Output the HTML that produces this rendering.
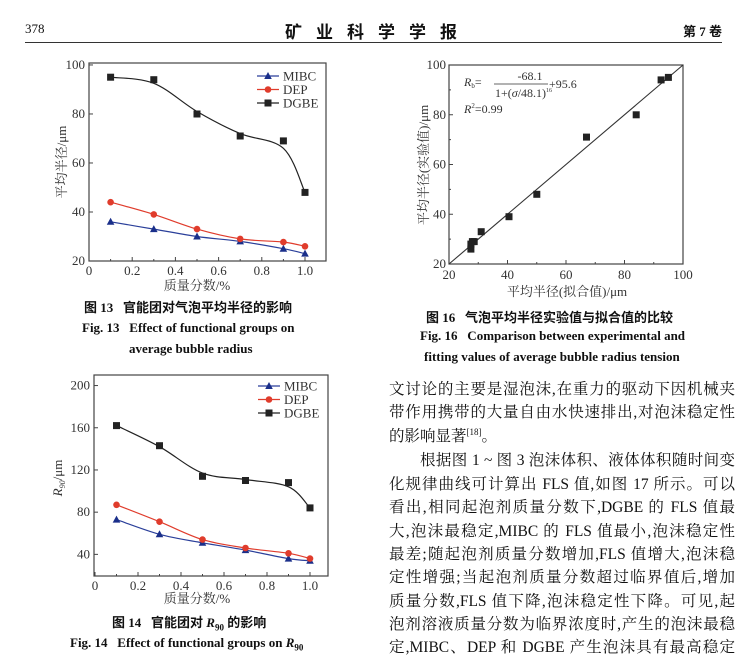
<!DOCTYPE html>
<html><head><meta charset="utf-8">
<style>
html,body{margin:0;padding:0;background:#fff;}
body{width:741px;height:660px;position:relative;overflow:hidden;font-family:"Liberation Serif","Noto Serif CJK SC",serif;color:#111;}
.t{position:absolute;white-space:nowrap;}
.cap{font-family:"Liberation Serif","Noto Sans CJK SC",serif;font-weight:bold;font-size:13px;}
.para div{position:absolute;left:389px;width:346px;font-family:"Liberation Serif","Noto Serif CJK SC",serif;font-size:15.5px;text-align:justify;text-align-last:justify;white-space:nowrap;line-height:20px;height:20px;}
sup{line-height:0;}
</style></head><body>
<div class="t" style="left:25px;top:21px;font-size:13px;">378</div>
<div class="t" style="left:285px;top:18px;font-size:17px;font-weight:bold;letter-spacing:14px;font-family:'Liberation Serif','Noto Sans CJK SC',serif;">矿业科学学报</div>
<div class="t" style="left:683px;top:21px;font-size:13px;font-weight:bold;font-family:'Liberation Serif','Noto Sans CJK SC',serif;">第 7 卷</div>
<div style="position:absolute;left:25px;top:42px;width:697px;height:1px;background:#333;"></div>

<svg id="s" width="741" height="660" style="position:absolute;left:0;top:0" font-family="Liberation Serif, Noto Serif CJK SC, serif"></svg>

<div class="t cap" style="left:84px;top:297px;">图 13&nbsp;&nbsp;&nbsp;官能团对气泡平均半径的影响</div>
<div class="t cap" style="left:82px;top:320px;">Fig. 13&nbsp;&nbsp;&nbsp;Effect of functional groups on</div>
<div class="t cap" style="left:129px;top:341px;">average bubble radius</div>
<div class="t cap" style="left:112px;top:612px;">图 14&nbsp;&nbsp;&nbsp;官能团对 <i>R</i><sub style="font-size:9px;line-height:0">90</sub> 的影响</div>
<div class="t cap" style="left:70px;top:635px;">Fig. 14&nbsp;&nbsp;&nbsp;Effect of functional groups on <i>R</i><sub style="font-size:9px;line-height:0">90</sub></div>
<div class="t cap" style="left:426px;top:307px;">图 16&nbsp;&nbsp;&nbsp;气泡平均半径实验值与拟合值的比较</div>
<div class="t cap" style="left:420px;top:328px;">Fig. 16&nbsp;&nbsp;&nbsp;Comparison between experimental and</div>
<div class="t cap" style="left:424px;top:349px;">fitting values of average bubble radius tension</div>

<div class="para">
<div style="top:380px">文讨论的主要是湿泡沫,在重力的驱动下因机械夹</div>
<div style="top:403px">带作用携带的大量自由水快速排出,对泡沫稳定性</div>
<div style="top:427px;width:auto;text-align-last:auto">的影响显著<sup style="font-size:9px">[18]</sup>。</div>
<div style="top:451px;left:420px;width:315px">根据图 1 ~ 图 3 泡沫体积、液体体积随时间变</div>
<div style="top:475px">化规律曲线可计算出 FLS 值,如图 17 所示。可以</div>
<div style="top:498px">看出,相同起泡剂质量分数下,DGBE 的 FLS 值最</div>
<div style="top:522px">大,泡沫最稳定,MIBC 的 FLS 值最小,泡沫稳定性</div>
<div style="top:545px">最差;随起泡剂质量分数增加,FLS 值增大,泡沫稳</div>
<div style="top:568px">定性增强;当起泡剂质量分数超过临界值后,增加</div>
<div style="top:592px">质量分数,FLS 值下降,泡沫稳定性下降。可见,起</div>
<div style="top:615px">泡剂溶液质量分数为临界浓度时,产生的泡沫最稳</div>
<div style="top:638px">定,MIBC、DEP 和 DGBE 产生泡沫具有最高稳定</div>
</div>

<script>
const S=document.getElementById('s');let h='';
function cr(pts){let d='M'+pts[0][0]+','+pts[0][1];for(let i=0;i<pts.length-1;i++){const p0=pts[i-1]||pts[i],p1=pts[i],p2=pts[i+1],p3=pts[i+2]||p2;const c1=[p1[0]+(p2[0]-p0[0])/6,p1[1]+(p2[1]-p0[1])/6],c2=[p2[0]-(p3[0]-p1[0])/6,p2[1]-(p3[1]-p1[1])/6];d+=`C${c1[0].toFixed(1)},${c1[1].toFixed(1)} ${c2[0].toFixed(1)},${c2[1].toFixed(1)} ${p2[0]},${p2[1]}`;}return d;}
function mark(t,x,y,c){if(t=='s')return `<rect x="${x-3.5}" y="${y-3.5}" width="7" height="7" fill="${c}"/>`;if(t=='c')return `<circle cx="${x}" cy="${y}" r="3.3" fill="${c}"/>`;return `<path d="M${x},${y-4}L${x+3.8},${y+3}L${x-3.8},${y+3}Z" fill="${c}"/>`;}
function chart(o){const {x0,x1,yT,yB,px0,px1,vTop,vBot,ticks}=o;
 const X=v=>px0+(px1-px0)*v, Y=v=>yB-(yB-yT)*(v-vBot)/(vTop-vBot);
 h+=`<rect x="${x0}" y="${yT}" width="${x1-x0}" height="${yB-yT}" fill="none" stroke="#444" stroke-width="1.2"/>`;
 for(let i=0;i<=5;i++){const x=X(i*0.2);h+=`<line x1="${x}" y1="${yB}" x2="${x}" y2="${yB-4}" stroke="#444"/><text x="${x}" y="${yB+14}" font-size="13" text-anchor="middle" fill="#333">${i==0?'0':(i*0.2).toFixed(1)}</text>`;if(i<5){const xm=X(i*0.2+0.1);h+=`<line x1="${xm}" y1="${yB}" x2="${xm}" y2="${yB-2}" stroke="#444"/>`;}}
 ticks.forEach(v=>{const y=Y(v);h+=`<line x1="${x0}" y1="${y}" x2="${x0+4}" y2="${y}" stroke="#444"/><text x="${x0-4}" y="${y+4}" font-size="13" text-anchor="end" fill="#333">${v}</text>`;});
 const xs=[0.1,0.3,0.5,0.7,0.9,1.0];
 o.series.forEach(s=>{const p=xs.map((x,i)=>[+X(x).toFixed(1),+Y(s.d[i]).toFixed(1)]);const pc=s.cd?xs.map((x,i)=>[+X(x).toFixed(1),+Y(s.cd[i]).toFixed(1)]):p;h+=`<path d="${cr(pc)}" fill="none" stroke="${s.lc}" stroke-width="1.2"/>`;p.forEach(q=>h+=mark(s.m,q[0],q[1],s.c));});
 o.series.forEach((s,i)=>{const y=o.ly+i*13.5;h+=`<line x1="${o.lx}" y1="${y}" x2="${o.lx+22}" y2="${y}" stroke="${s.lc}" stroke-width="1.2"/>`+mark(s.m,o.lx+11,y,s.c)+`<text x="${o.lx+26}" y="${y+4.5}" font-size="13" fill="#333">${s.n}</text>`;});
}
chart({x0:89,x1:326,yT:63,yB:261,px0:89,px1:305,vTop:100.8,vBot:20,ticks:[20,40,60,80,100],lx:257,ly:76,
 series:[{n:'MIBC',m:'t',c:'#1a2f8a',lc:'#2a3f9a',d:[36,33,30,28,25,23]},{n:'DEP',m:'c',c:'#e03c2c',lc:'#e03c2c',d:[44,39,33,29,27.7,26]},{n:'DGBE',m:'s',c:'#222',lc:'#222',d:[95,94,80,71,69,48],cd:[95,92.5,81,72,66,48]}]});
h+=`<text x="197" y="290" font-size="13" text-anchor="middle" fill="#333">质量分数/%</text>`;
h+=`<text transform="translate(66,162) rotate(-90)" font-size="13" text-anchor="middle" fill="#333">平均半径/μm</text>`;
chart({x0:94,x1:328,yT:375,yB:576,px0:95,px1:310,vTop:210,vBot:19.5,ticks:[40,80,120,160,200],lx:258,ly:386,
 series:[{n:'MIBC',m:'t',c:'#1a2f8a',lc:'#2a3f9a',d:[73,59,51,44,36,34]},{n:'DEP',m:'c',c:'#e03c2c',lc:'#e03c2c',d:[87,71,54,46,41,36]},{n:'DGBE',m:'s',c:'#222',lc:'#222',d:[162,143,114,110,108,84],cd:[162,142,117,111,104,84]}]});
h+=`<text x="197" y="603" font-size="13" text-anchor="middle" fill="#333">质量分数/%</text>`;
h+=`<text transform="translate(62,478) rotate(-90)" font-size="13" text-anchor="middle" fill="#333"><tspan font-style="italic">R</tspan><tspan font-size="8" dy="3" font-style="italic">90</tspan><tspan dy="-3">/μm</tspan></text>`;
{const x0=449,x1=683,yT=65,yB=264;const X=v=>x0+(x1-x0)*(v-20)/80,Y=v=>yB-(yB-yT)*(v-20)/80;
 h+=`<rect x="${x0}" y="${yT}" width="${x1-x0}" height="${yB-yT}" fill="none" stroke="#444" stroke-width="1.2"/>`;
 for(let v=20;v<=100;v+=10){const x=X(v),y=Y(v),L=v%20?2:4;h+=`<line x1="${x}" y1="${yB}" x2="${x}" y2="${yB-L}" stroke="#444"/><line x1="${x0}" y1="${y}" x2="${x0+L}" y2="${y}" stroke="#444"/>`;if(v%20==0){h+=`<text x="${x}" y="${yB+15}" font-size="13" text-anchor="middle" fill="#333">${v}</text><text x="${x0-3}" y="${y+4}" font-size="13" text-anchor="end" fill="#333">${v}</text>`;}}
 h+=`<line x1="${x0}" y1="${yB}" x2="${x1}" y2="${yT}" stroke="#333" stroke-width="1.1"/>`;
 [[27.5,26],[27.5,28],[28,29],[28.6,29],[31,33],[40.5,39],[50,48],[67,71],[84,80],[92.5,94],[95,95]].forEach(p=>h+=mark('s',X(p[0]).toFixed(1),Y(p[1]).toFixed(1),'#222'));
 h+=`<text x="464" y="86" font-size="12" fill="#333"><tspan font-style="italic">R</tspan><tspan font-size="7" dy="2">b</tspan><tspan dy="-2">=</tspan></text>`;
 h+=`<text x="530" y="80" font-size="12" text-anchor="middle" fill="#333">-68.1</text><line x1="494" y1="84" x2="548" y2="84" stroke="#333" stroke-width="0.8"/>`;
 h+=`<text x="495" y="97" font-size="12" fill="#333">1+(<tspan font-style="italic">σ</tspan>/48.1)<tspan font-size="6" dy="-5">16</tspan></text><text x="549" y="88" font-size="12" fill="#333">+95.6</text>`;
 h+=`<text x="464" y="113" font-size="12" fill="#333"><tspan font-style="italic">R</tspan><tspan font-size="7" dy="-5">2</tspan><tspan dy="5">=0.99</tspan></text>`;
 h+=`<text x="567" y="296" font-size="13" text-anchor="middle" fill="#333">平均半径(拟合值)/μm</text>`;
 h+=`<text transform="translate(428,165) rotate(-90)" font-size="13" text-anchor="middle" fill="#333">平均半径(实验值)/μm</text>`;}
S.innerHTML=h;
</script>
</body></html>
